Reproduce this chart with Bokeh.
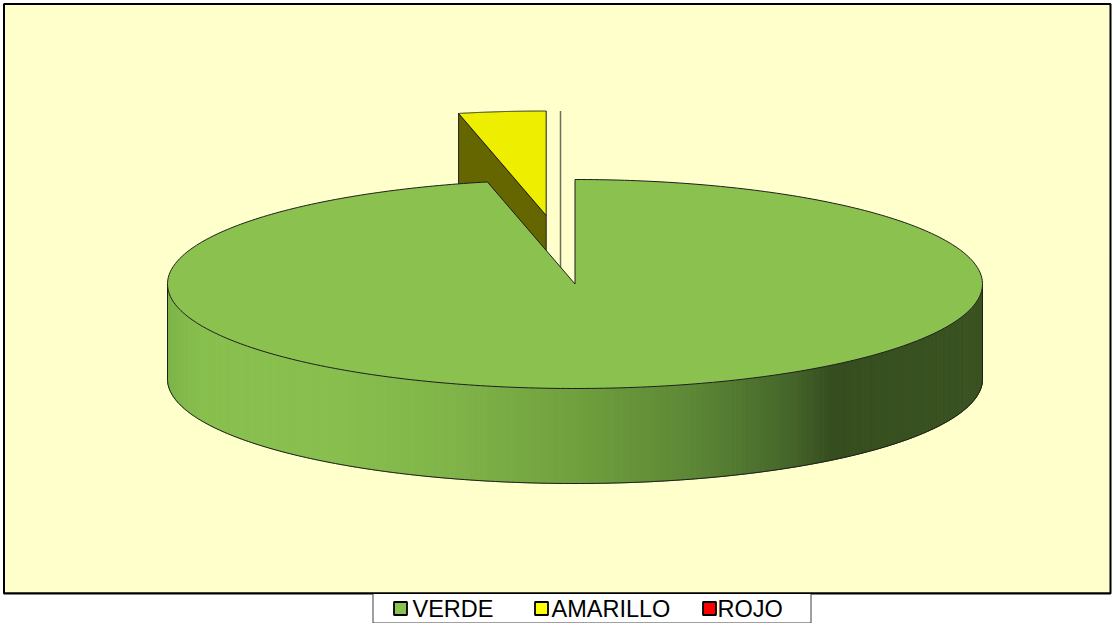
import numpy as np
from bokeh.plotting import figure
from bokeh.models import Range1d
from bokeh.core.properties import value
from bokeh.embed import file_html
from bokeh.resources import INLINE

# ---------------- data ----------------
categories = ["VERDE", "AMARILLO", "ROJO"]
values = [28, 1, 0]
top_colors = ["#8AC14F", "#EEEE00", "#FF0000"]
cut_colors = ["#5E8A35", "#666600", "#800000"]
legend_colors = ["#8CC350", "#FFFF00", "#FF0000"]

# ---------------- layout / style constants ----------------
W, H = 1112, 623            # reference coordinate space
CX, CY, RX, RY, DEPTH = 574.5, 283.5, 407.5, 104.5, 95
OFFSETS = [(0.0, 0.0), (-28.8, -68.5), (-14.5, -68.5)]   # explode shifts
GRAD_X = [167, 200, 330, 450, 575, 700, 790, 830, 982]
GRAD_C = ["#7DB449", "#88BF4E", "#88BF4E", "#80B449", "#70A03E",
          "#5B8535", "#45652A", "#364E1F", "#3A5321"]
LEG_MARK_X = [400, 541, 709]
LEG_TEXT_X = [412, 551, 717]
LEG_Y = 608
EDGE = "#1E1E1E"


def hex2rgb(h):
    h = h.lstrip("#")
    return [int(h[i:i + 2], 16) for i in (0, 2, 4)]


GRAD_RGB = np.array([hex2rgb(c) for c in GRAD_C], dtype=float)


def grad_color(x):
    r, g, b = (np.interp(x, GRAD_X, GRAD_RGB[:, k]) for k in range(3))
    return "#%02x%02x%02x" % (int(round(r)), int(round(g)), int(round(b)))


def pt(theta, ox=0.0, oy=0.0, dz=0.0):
    t = np.radians(theta)
    return CX + ox + RX * np.sin(t), CY + oy - RY * np.cos(t) + dz


p = figure(width=W, height=H, x_range=Range1d(0, W), y_range=Range1d(H, 0),
           output_backend="svg", toolbar_location=None, min_border=0,
           x_axis_location=None, y_axis_location=None,
           background_fill_color="white", border_fill_color="white",
           outline_line_color=None)
p.grid.visible = False

# chart area
p.quad(left=[3.5], right=[1110], top=[3.5], bottom=[593],
       fill_color="#FFFFCC", line_color="black", line_width=2)

# angles from values (clockwise from 12 o'clock)
total = float(sum(values))
ends = np.cumsum(values) / total * 360.0
starts = np.concatenate([[0.0], ends[:-1]])


def draw_slice(i):
    a0, a1 = starts[i], ends[i]
    ox, oy = OFFSETS[i]
    ax, ay = CX + ox, CY + oy
    if values[i] == 0:
        px, py = pt(a0, ox, oy)
        p.line(x=[px, ax, ax], y=[py, ay, ay + DEPTH],
               line_color="#6E6E5A", line_width=1.5)
        return
    # outer wall (front half only)
    lo, hi = max(a0, 90.0), min(a1, 270.0)
    if hi > lo:
        th = np.linspace(lo, hi, 241)
        xs, ys, cs = [], [], []
        for k in range(len(th) - 1):
            x0, y0 = pt(th[k], ox, oy)
            x1, y1 = pt(th[k + 1], ox, oy)
            xs.append([x0, x1, x1, x0])
            ys.append([y0, y1, y1 + DEPTH, y0 + DEPTH])
            c = grad_color(0.5 * (x0 + x1)) if i == 0 else cut_colors[i]
            cs.append(c)
        p.patches(xs=xs, ys=ys, fill_color=cs, line_color=cs, line_width=1)
        bx, by = pt(th, ox, oy, DEPTH)
        lx0, ly0 = pt(lo, ox, oy)
        lx1, ly1 = pt(hi, ox, oy)
        p.line(x=[lx0] + list(bx) + [lx1], y=[ly0] + list(by) + [ly1],
               line_color=EDGE, line_width=1)
    # cut faces
    if np.sin(np.radians(a0)) < -1e-9:
        qx, qy = pt(a0, ox, oy)
        p.patch(x=[ax, qx, qx, ax], y=[ay, qy, qy + DEPTH, ay + DEPTH],
                fill_color=cut_colors[i], line_color=EDGE, line_width=1)
    if np.sin(np.radians(a1)) > 1e-9:
        qx, qy = pt(a1, ox, oy)
        p.patch(x=[ax, qx, qx, ax], y=[ay, qy, qy + DEPTH, ay + DEPTH],
                fill_color=cut_colors[i], line_color=EDGE, line_width=1)
    # top face
    th = np.linspace(a0, a1, 400)
    tx, ty = pt(th, ox, oy)
    p.patch(x=[ax] + list(tx), y=[ay] + list(ty),
            fill_color=top_colors[i], line_color=EDGE, line_width=1)


# exploded (back) slices first, main slice last
for i in range(len(values) - 1, -1, -1):
    draw_slice(i)

# legend
p.quad(left=[372.5], right=[810.5], top=[593], bottom=[622.5],
       fill_color="white", line_color="#404040", line_width=1)
p.quad(left=[3.5], right=[1110], top=[592], bottom=[593.5],
       fill_color="black", line_color=None)
p.scatter(x=LEG_MARK_X, y=[LEG_Y] * 3, marker="square", size=13,
          fill_color=legend_colors, line_color="black", line_width=1.8)
p.text(x=LEG_TEXT_X, y=[LEG_Y] * 3, text=categories,
       text_font=value("Liberation Sans"), text_font_size="23.5px",
       text_align="left", text_baseline="middle", text_color="black")

open("out.html", "w").write(file_html(p, INLINE))
